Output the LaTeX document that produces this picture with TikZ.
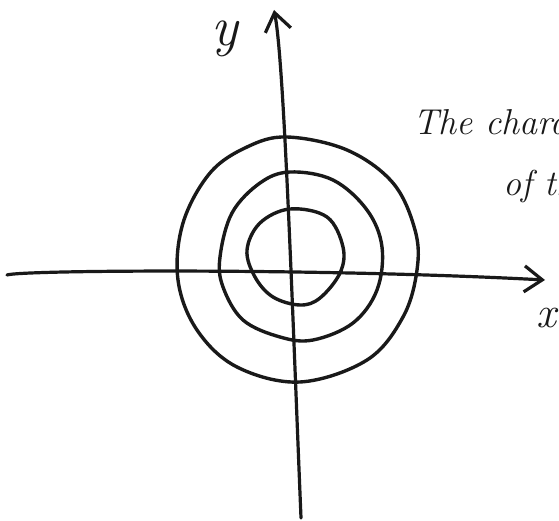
\documentclass[tikz,border=0pt]{standalone}
\usepackage{tikz}
\usetikzlibrary{arrows.meta}

\begin{document}
\begin{tikzpicture}[
    x=1pt, y=-1pt,
    axis/.style={line width=3.2pt, draw=black!90, line cap=round, -{Straight Barb[length=18pt, width=26pt, line width=3.2pt]}},
    level/.style={line width=3.4pt, draw=black!90},
    hand/.style={inner sep=0pt, font=\itshape, text=black!90},
]
\useasboundingbox (0,0) rectangle (559,521);
\clip (0,0) rectangle (559,521);

% axes
\coordinate (xleft) at (7,275);
\coordinate (xright) at (545,280);
\coordinate (ybot) at (301,518);
\coordinate (ytop) at (274,10);
\draw[axis] (xleft) .. controls (20,270) and (320,268) .. (xright);
\draw[axis] (ybot) .. controls (292,300) and (284,60) .. (ytop);

% level curves
\draw[level] plot[smooth cycle, tension=0.6] coordinates {(287,137) (347,150) (393,183) (415,230) (417,270) (403,317) (367,360) (300,382) (237,367) (197,330) (178,280) (183,223) (210,173) (247,147)};
\draw[level] plot[smooth cycle, tension=0.6] coordinates {(290,172) (333,180) (367,210) (382,247) (377,290) (353,323) (313,340) (280,337) (243,320) (223,287) (220,257) (232,213) (260,183)};
\draw[level] plot[smooth cycle, tension=0.6] coordinates {(290,209) (327,217) (343,247) (340,273) (320,298) (300,305) (273,297) (255,277) (247,250) (260,223)};

% labels
\node[hand, anchor=base, font=\itshape\fontsize{56}{58}\selectfont] (ylab) at (225,46) {y};
\node[hand, anchor=base west, font=\itshape\fontsize{44}{48}\selectfont] (xlab) at (536,327) {x};
\node[hand, anchor=base west, font=\itshape\fontsize{36}{40}\selectfont] (note1) at (413,135) {The charac};
\node[hand, anchor=base west, font=\itshape\fontsize{36}{40}\selectfont] (note2) at (503,196) {of th};
\end{tikzpicture}
\end{document}
